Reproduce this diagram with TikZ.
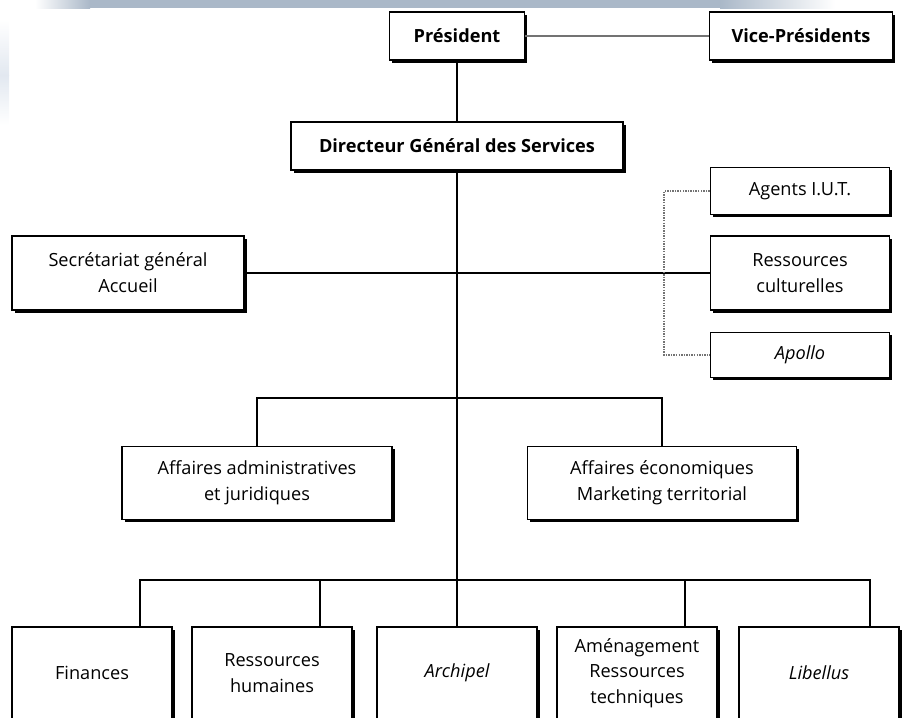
\documentclass[tikz,border=0pt]{standalone}
\usepackage{fontspec}
\setmainfont{Open Sans}
\usepackage{tikz}
\usetikzlibrary{shadows,positioning}

\definecolor{bandblue}{RGB}{170,184,200}
\definecolor{edgeblue}{RGB}{226,232,240}

\begin{document}
\begin{tikzpicture}[x=0.03cm, y=-0.03cm]
                \tikzstyle{box} = [rectangle, draw, line width=1.3pt, fill=white,
                align=center, inner sep=2pt,
                font=\fontsize{15.5}{22}\selectfont,
                drop shadow={shadow xshift=2.2pt, shadow yshift=-2.2pt,
                fill=black, opacity=1}]
                \tikzstyle{chief} = [box, font=\fontsize{15.5}{22}\selectfont\bfseries]
                \tikzstyle{link} = [line width=1.3pt]
                \tikzstyle{greylink} = [line width=2.2pt, black!55]
                \tikzstyle{dotlink} = [line width=1.2pt, densely dotted, black!55]

                \useasboundingbox (0,0) rectangle (908,717);
                \clip (0,0) rectangle (908,717);

                % bandeau du haut et bord gauche
                \shade [left color=white, right color=bandblue] (35,0) rectangle (90,8);
                \fill [bandblue] (90,0) rectangle (720,8);
                \shade [left color=bandblue, right color=white] (720,0) rectangle (835,8);
                \shade [top color=white, bottom color=edgeblue] (0,20) rectangle (9,75);
                \shade [top color=edgeblue, bottom color=white] (0,75) rectangle (9,125);

                \node [chief, minimum width=4.05cm, minimum height=1.44cm] (pres) at (457,36) {Président};
                \node [chief, minimum width=5.49cm, minimum height=1.44cm] (vp) at (801,36) {Vice-Présidents};
                \node [chief, minimum width=9.96cm, minimum height=1.44cm] (dgs) at (457,146) {Directeur Général des Services};

                \node [box, minimum width=5.37cm, minimum height=1.41cm] (iut) at (800,191) {Agents I.U.T.};
                \node [box, minimum width=5.37cm, minimum height=2.22cm] (cult) at (800,273) {Ressources\\culturelles};
                \node [box, minimum width=5.37cm, minimum height=1.35cm] (apollo) at (800,355) {\itshape Apollo};
                \node [box, minimum width=6.96cm, minimum height=2.22cm] (secr) at (128,273) {Secrétariat général\\Accueil};

                \node [box, minimum width=8.1cm, minimum height=2.19cm] (admin) at (257,483) {Affaires administratives\\et juridiques};
                \node [box, minimum width=8.07cm, minimum height=2.19cm] (eco) at (662,483) {Affaires économiques\\Marketing territorial};

                \node [box, minimum width=4.8cm, minimum height=2.76cm] (fin) at (92,673) {Finances};
                \node [box, minimum width=4.8cm, minimum height=2.76cm] (rh) at (272,673) {Ressources\\humaines};
                \node [box, minimum width=4.8cm, minimum height=2.76cm] (archi) at (457,673) {\itshape Archipel};
                \node [box, minimum width=4.8cm, minimum height=2.76cm] (amen) at (637,673) {Aménagement\\Ressources\\techniques};
                \node [box, minimum width=4.8cm, minimum height=2.76cm] (libel) at (819,673) {\itshape Libellus};

                \coordinate (bushaut) at (457,398);
                \coordinate (busbas) at (457,580);
                \coordinate (pointille) at (664,191);

                \draw [greylink] (pres) -- (vp);
                \draw [link] (pres.south) -- (dgs.north);
                \draw [link] (dgs.south) -- (archi.north);
                \draw [link] (secr.east) -- (cult.west);
                \draw [dotlink] (iut.west) -- (pointille) |- (apollo.west);
                \draw [link] (admin.north) |- (bushaut) -| (eco.north);
                \draw [link] ([xshift=1.44cm]fin.north) |- (busbas) -| ([xshift=1.53cm]libel.north);
                \draw [link] ([xshift=1.44cm]rh.north) -- ([xshift=1.44cm]rh.north |- busbas);
                \draw [link] ([xshift=1.44cm]amen.north) -- ([xshift=1.44cm]amen.north |- busbas);
            \end{tikzpicture}
\end{document}
